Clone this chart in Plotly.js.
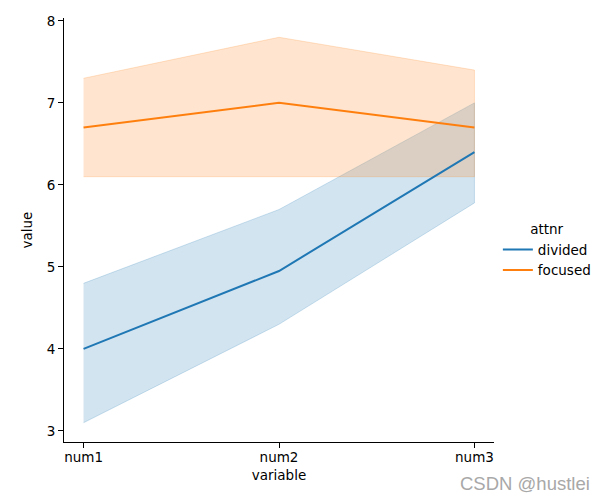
<!DOCTYPE html>
<html>
<head>
<meta charset="utf-8">
<script src="https://cdn.plot.ly/plotly-3.0.1.min.js"></script>
<style>html,body{margin:0;padding:0;background:#fff;}#chart{width:604px;height:500px;}</style>
</head>
<body>
<div id="chart"></div>
<script>
const categories = ["num1", "num2", "num3"];
const dividedMean  = [4.0, 4.95, 6.40];
const dividedLower = [3.10, 4.30, 5.78];
const dividedUpper = [4.80, 5.70, 7.00];
const focusedMean  = [6.70, 7.00, 6.70];
const focusedLower = [6.10, 6.10, 6.10];
const focusedUpper = [7.30, 7.80, 7.40];
const seriesNames = ["divided", "focused"];
const colors = ["#1f77b4", "#ff7f0e"];
const bandColors = ["rgba(31,119,180,0.2)", "rgba(255,127,14,0.2)"];

function band(lower, upper, i) {
  return {
    x: categories.concat(categories.slice().reverse()),
    y: upper.concat(lower.slice().reverse()),
    type: "scatter", mode: "lines", fill: "toself",
    fillcolor: bandColors[i],
    line: {color: bandColors[i], width: 1},
    showlegend: false, hoverinfo: "skip"
  };
}
function line(mean, i) {
  return {
    x: categories, y: mean, type: "scatter", mode: "lines",
    name: seriesNames[i], line: {color: colors[i], width: 2}
  };
}
const data = [
  band(dividedLower, dividedUpper, 0),
  band(focusedLower, focusedUpper, 1),
  line(dividedMean, 0),
  line(focusedMean, 1)
];
const font = {family: "DejaVu Sans, sans-serif", size: 13.5, color: "#000"};
const layout = {
  width: 604, height: 500,
  margin: {l: 64, r: 110, t: 18, b: 58, pad: 0, autoexpand: false},
  paper_bgcolor: "#fff", plot_bgcolor: "#fff",
  font: font,
  xaxis: {
    type: "category", range: [-0.1, 2.1],
    showline: true, linecolor: "#000", linewidth: 1,
    ticks: "outside", ticklen: 5, tickcolor: "#000", tickwidth: 1,
    ticklabelstandoff: -2,
    showgrid: false, zeroline: false, automargin: false,
    title: {text: "variable", font: font, standoff: 6}
  },
  yaxis: {
    range: [2.865, 8.035],
    tickvals: [3, 4, 5, 6, 7, 8],
    showline: true, linecolor: "#000", linewidth: 1,
    ticks: "outside", ticklen: 5, tickcolor: "#000", tickwidth: 1,
    showgrid: false, zeroline: false, automargin: false,
    title: {text: "value", font: font, standoff: 10}
  },
  showlegend: true,
  legend: {
    x: 1.009, xanchor: "left", y: 0.450, yanchor: "middle",
    title: {text: "attnr", side: "top center", font: font},
    font: font, bgcolor: "rgba(0,0,0,0)", borderwidth: 0,
    tracegroupgap: 0
  },
  annotations: [{
    text: "CSDN @hustlei", xref: "paper", yref: "paper",
    x: (525 - 64) / 430, y: (442 - 483) / 424,
    xanchor: "center", yanchor: "middle", showarrow: false,
    font: {family: "Liberation Sans, Arial, sans-serif", size: 18.5, color: "#a8a8a8"}
  }]
};
Plotly.newPlot("chart", data, layout, {displayModeBar: false, staticPlot: true});
</script>
</body>
</html>
